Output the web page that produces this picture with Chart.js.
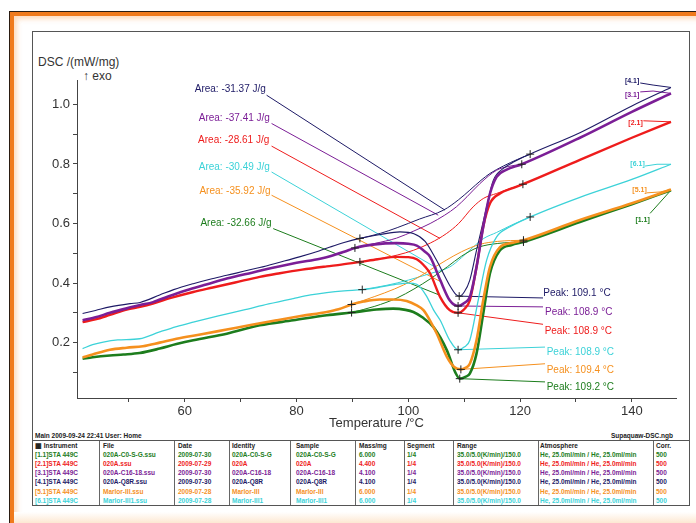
<!DOCTYPE html>
<html>
<head>
<meta charset="utf-8">
<script src="https://cdn.jsdelivr.net/npm/chart.js@4.4.0/dist/chart.umd.min.js"></script>
<style>
  html, body { margin: 0; padding: 0; background: #fff; }
  body { width: 696px; height: 523px; position: relative; overflow: hidden; font-family: "Liberation Sans", Arial, sans-serif; }
  #edge { position: absolute; left: 9px; top: 11px; width: 740px; height: 560px; border-left: 1px solid #2a1c12; border-top: 1px solid #2a1c12; }
  #edge .band { position: absolute; left: 0; top: 0; right: 0; bottom: 0; border-left: 4px solid #f07a1c; border-top: 4px solid #f07a1c; box-shadow: inset 3px 3px 5px rgba(250, 175, 110, 0.45); }
  #foot { position: absolute; left: 14px; top: 512px; width: 700px; height: 11px; background: linear-gradient(#fff, #fde8d2); }
  #frame { position: absolute; left: 32px; top: 31px; width: 656px; height: 473px; border: 1px solid #555; }
  #chart { position: absolute; left: 0; top: 0; }
  .ax { position: absolute; font-size: 12px; color: #333; white-space: nowrap; line-height: 14px; }
  .cell { position: absolute; font-size: 6.5px; font-weight: bold; white-space: nowrap; line-height: 9px; }
  .hline { position: absolute; left: 32px; width: 657px; height: 1px; background: #555; }
  .vline { position: absolute; width: 1px; background: #666; top: 441px; height: 64px; }
</style>
</head>
<body>
<div id="edge"><div class="band"></div></div>
<div id="foot"></div>
<div id="frame"></div>
<div class="ax" style="left:38px; top:55px;">DSC /(mW/mg)</div>
<div class="ax" style="left:83px; top:69px;">↑ exo</div>
<div id="table"></div>
<canvas id="chart" width="696" height="523"></canvas>
<script>
const family = '"Liberation Sans", Arial, sans-serif';

// axis ticks: temperature (°C) and DSC signal (mW/mg)
const tempTicks = [50, 60, 70, 80, 90, 100, 110, 120, 130, 140];
const dscTicks = [0.1, 0.2, 0.3, 0.4, 0.5, 0.6, 0.7, 0.8, 0.9, 1.0];

// runs in table order
const runIds = ['[1.1]', '[2.1]', '[3.1]', '[4.1]', '[5.1]', '[6.1]'];
const runColors = ['#1d7d1d', '#ee1c1c', '#7b1e96', '#1e1a66', '#f5901e', '#3cd2d8'];
const runWidths = [2.6, 2.4, 2.6, 1.1, 2.6, 1.3];

// DSC curves, [T °C, mW/mg]
const curve11 = [[41.7,0.146],[43.5,0.151],[46.6,0.157],[49,0.160],[51.9,0.165],[55.5,0.180],[58.5,0.195],[61.5,0.208],[67.5,0.230],[73.4,0.258],[79.4,0.275],[85.4,0.292],[89.84,0.301],[94.3,0.311],[97.3,0.314],[99.5,0.310],[100.9,0.303],[102.5,0.285],[104.5,0.252],[106.9,0.174],[108.4,0.100],[109.2,0.079],[110.2,0.085],[111,0.096],[112.2,0.163],[113.4,0.297],[114.6,0.432],[116.4,0.510],[118.5,0.528],[120.6,0.538],[130.7,0.605],[140,0.665],[147,0.712]];
const curve21 = [[41.7,0.269],[44,0.278],[46.6,0.293],[49.6,0.311],[52,0.320],[54.3,0.331],[57.5,0.350],[61.5,0.370],[65,0.385],[69,0.402],[73.4,0.421],[77,0.433],[81,0.445],[85.4,0.456],[88,0.462],[91.33,0.471],[94.5,0.480],[97.9,0.488],[100,0.487],[101.5,0.480],[103,0.455],[103.9,0.432],[105.7,0.353],[107.4,0.309],[108.9,0.300],[110,0.312],[111,0.342],[112.2,0.454],[113.4,0.589],[114.6,0.667],[116.4,0.701],[118.5,0.718],[120.5,0.732],[130.7,0.814],[140,0.888],[147,0.9415]];
const curve31 = [[41.7,0.275],[44,0.285],[46.6,0.300],[49.6,0.315],[52,0.326],[54.3,0.336],[57,0.355],[60.3,0.376],[64,0.396],[67.5,0.415],[72,0.435],[76.4,0.454],[80,0.468],[84.2,0.482],[86,0.490],[88.5,0.505],[90.44,0.518],[94,0.530],[97.9,0.534],[100,0.532],[101.5,0.526],[103,0.505],[103.9,0.488],[105.7,0.410],[107.4,0.342],[108.9,0.323],[110,0.333],[111,0.353],[112.2,0.454],[113.4,0.589],[114.6,0.700],[115.8,0.757],[117.5,0.780],[120.3,0.799],[130.7,0.888],[140,0.975],[147,1.037]];
const curve41 = [[41.7,0.298],[44,0.308],[46.6,0.320],[50.2,0.331],[52,0.335],[55.5,0.360],[58,0.378],[61.5,0.398],[64.5,0.413],[67.5,0.426],[73.4,0.452],[77,0.470],[80.5,0.488],[84,0.508],[86,0.521],[88.5,0.536],[91.33,0.550],[95,0.563],[98.5,0.572],[101,0.566],[103,0.540],[105,0.478],[107.4,0.392],[108.5,0.362],[109.1,0.356],[110,0.370],[111,0.410],[112.2,0.510],[114,0.655],[115.2,0.745],[117,0.785],[119,0.808],[121.8,0.833],[130.7,0.905],[140,0.995],[147,1.057]];
const curve51 = [[41.7,0.150],[43.5,0.160],[46.6,0.176],[49.6,0.183],[52.5,0.188],[55.5,0.200],[58.5,0.213],[63,0.228],[67.5,0.244],[72,0.260],[76.4,0.275],[81,0.290],[85.4,0.303],[87.5,0.312],[89.84,0.328],[92,0.338],[94.9,0.345],[97.3,0.345],[99.7,0.340],[101.5,0.325],[102.7,0.309],[104,0.270],[105.1,0.230],[106.9,0.152],[108.2,0.118],[109.4,0.110],[110.2,0.115],[111,0.129],[112.2,0.208],[113.4,0.342],[114.6,0.454],[116.4,0.521],[118.5,0.535],[120.6,0.544],[130.7,0.612],[140,0.668],[147,0.714]];
const curve61 = [[41.7,0.180],[43.5,0.193],[45.4,0.202],[48,0.209],[51.9,0.213],[55.5,0.236],[58.5,0.254],[61.5,0.269],[66,0.290],[70.4,0.309],[75,0.330],[79.4,0.348],[82.5,0.360],[85.4,0.368],[88.5,0.374],[91.75,0.378],[94.5,0.385],[97.5,0.395],[100,0.400],[101.5,0.396],[103.2,0.358],[104.5,0.310],[105.7,0.275],[107.4,0.208],[108.9,0.176],[110,0.185],[111,0.208],[112.5,0.342],[114,0.476],[115.8,0.555],[118.2,0.589],[121.8,0.622],[130.7,0.688],[140,0.748],[147,0.799]];

// sigmoidal baselines under each melting peak
const base11 = [[89.84,0.301],[94,0.322],[98,0.350],[101,0.380],[104,0.415],[107,0.455],[109.5,0.490],[112.5,0.520],[116,0.533],[120.6,0.538]];
const base21 = [[91.33,0.471],[95,0.482],[98,0.494],[100.9,0.510],[104,0.535],[106.8,0.566],[109,0.600],[111.6,0.656],[113.5,0.685],[115.8,0.701],[118,0.716],[120.5,0.732]];
const base31 = [[90.44,0.518],[94,0.533],[97.9,0.551],[101,0.575],[103.9,0.600],[106.5,0.628],[108.6,0.656],[110.5,0.690],[112.8,0.734],[115.8,0.779],[118,0.792],[120.3,0.799]];
const base41 = [[91.33,0.550],[95,0.567],[98,0.586],[102,0.615],[106.3,0.645],[109,0.680],[111,0.712],[113,0.745],[114.6,0.768],[117,0.793],[119.5,0.815],[121.8,0.833]];
const base51 = [[89.84,0.328],[94,0.355],[97.5,0.380],[100.9,0.410],[104,0.445],[106.8,0.477],[109.5,0.505],[112.8,0.530],[116,0.540],[120.6,0.544]];
const base61 = [[91.75,0.378],[96,0.392],[100,0.410],[103.9,0.432],[107.4,0.454],[109.5,0.485],[111.6,0.521],[113.5,0.550],[115.8,0.570],[118.5,0.595],[121.8,0.622]];

// integration limits and peak results
const limitsLeft = [[89.84,0.301],[91.33,0.471],[90.44,0.518],[91.33,0.550],[89.84,0.328],[91.75,0.378]];
const limitsRight = [[120.6,0.538],[120.5,0.732],[120.3,0.799],[121.8,0.833],[120.6,0.544],[121.8,0.622]];
const peakTemps = [109.2, 108.9, 108.9, 109.1, 109.4, 108.9];
const peakValues = [0.079, 0.300, 0.323, 0.356, 0.110, 0.176];
const areaValues = ['-32.66', '-28.61', '-37.41', '-31.37', '-35.92', '-30.49'];

// annotation anchors, [T, mW/mg]
const areaLeaders = [[[75.81,0.583],[105.66,0.359]],[[75.52,0.860],[105.66,0.550]],[[75.52,0.936],[105.35,0.628]],[[74.63,1.031],[106.55,0.645]],[[75.52,0.695],[105.66,0.406]],[[75.52,0.773],[105.12,0.450]]];
const areaLabelAt = [[75.52,0.600],[75.1,0.880],[75.22,0.953],[74.5,1.050],[75.34,0.710],[75.22,0.788]];
const peakLeaderEnds = [[124.46,0.068],[124.1,0.2615],[124.1,0.320],[124.1,0.350],[124.46,0.129],[124.46,0.185]];
const peakLabelAt = [[124.76,0.049],[124.39,0.238],[124.46,0.301],[124.15,0.367],[124.76,0.107],[124.76,0.168]];
const endLeaders = [[[143.26,0.634],[147,0.712]],[[142.06,0.945],[147,0.9415]],[[141.5,1.042],[143.8,1.045],[147,1.037]],[[141.5,1.072],[143.8,1.065],[147,1.057]],[[142.67,0.703],[145.05,0.706],[147,0.714]],[[142.36,0.793],[144.5,0.799],[147,0.799]]];
const endLabelAt = [[141.92,0.611],[140.66,0.936],[140.04,1.031],[140.04,1.079],[141.38,0.714],[141.02,0.799]];

// measurement table
const tableHead = ['\u25A6 Instrument', 'File', 'Date', 'Identity', 'Sample', 'Mass/mg', 'Segment', 'Range', 'Atmosphere', 'Corr.'];
const instruments = ['[1.1]STA 449C', '[2.1]STA 449C', '[3.1]STA 449C', '[4.1]STA 449C', '[5.1]STA 449C', '[6.1]STA 449C'];
const files = ['020A-C0-S-G.ssu', '020A.ssu', '020A-C16-18.ssu', '020A-Q8R.ssu', 'Marlor-III.ssu', 'Marlor-III1.ssu'];
const dates = ['2009-07-30', '2009-07-29', '2009-07-30', '2009-07-30', '2009-07-28', '2009-07-28'];
const identities = ['020A-C0-S-G', '020A', '020A-C16-18', '020A-Q8R', 'Marlor-III', 'Marlor-III1'];
const samples = ['020A-C0-S-G', '020A', '020A-C16-18', '020A-Q8R', 'Marlor-III', 'Marlor-III1'];
const masses = ['6.000', '4.400', '4.100', '4.100', '6.000', '6.000'];
const segments = ['1/4', '1/4', '1/4', '1/4', '1/4', '1/4'];
const ranges = ['35.0/5.0(K/min)/150.0', '35.0/5.0(K/min)/150.0', '35.0/5.0(K/min)/150.0', '35.0/5.0(K/min)/150.0', '35.0/5.0(K/min)/150.0', '35.0/5.0(K/min)/150.0'];
const atmospheres = ['He, 25.0ml/min / He, 25.0ml/min', 'He, 25.0ml/min / He, 25.0ml/min', 'He, 25.0ml/min / He, 25.0ml/min', 'He, 25.0ml/min / He, 25.0ml/min', 'He, 25.0ml/min / He, 25.0ml/min', 'He, 25.0ml/min / He, 25.0ml/min'];
const corrs = ['500', '500', '500', '500', '500', '500'];

// ── table ──
(function buildTable() {
  const box = document.getElementById('table');
  const colLeft = [35, 103, 178, 232, 296, 359, 407, 457, 540, 656];
  const colLines = [99, 174, 229, 290, 355, 404, 453, 538, 653];
  const rowMid = [454.3, 463.3, 472.3, 481.7, 491, 500.7];
  const cols = [instruments, files, dates, identities, samples, masses, segments, ranges, atmospheres, corrs];
  const put = (text, left, mid, color, extra) => {
    const d = document.createElement('div');
    d.className = 'cell';
    d.textContent = text;
    d.style.left = left + 'px';
    d.style.top = (mid - 4.5) + 'px';
    d.style.color = color;
    if (extra) Object.assign(d.style, extra);
    box.appendChild(d);
  };
  put('Main   2009-09-24 22:41   User: Home', 35, 435.7, '#222');
  put('Supaquaw-DSC.ngb', 0, 435.7, '#222', { left: 'auto', right: '23px' });
  const top = document.createElement('div');
  top.className = 'hline';
  top.style.top = '440px';
  box.appendChild(top);
  colLines.forEach(x => {
    const v = document.createElement('div');
    v.className = 'vline';
    v.style.left = x + 'px';
    box.appendChild(v);
  });
  tableHead.forEach((h, c) => put(h, colLeft[c] + (c === 0 ? 0 : 0), 445.5, '#222'));
  cols.forEach((col, c) => {
    col.forEach((txt, r) => put(txt, colLeft[c], rowMid[r], runColors[r]));
  });
})();

// ── chart ──
const pts = arr => arr.map(([x, y]) => ({ x, y }));

const crossPoints = pts(limitsLeft).concat(pts(limitsRight),
  peakTemps.map((t, i) => ({ x: t, y: peakValues[i] })));

const curves = [curve11, curve21, curve31, curve41, curve51, curve61];
const baselines = [base11, base21, base31, base41, base51, base61];
const zOrder = [4, 0, 2, 1, 5, 3]; // drawn top first

const datasets = [];
datasets.push({
  data: crossPoints,
  showLine: false,
  pointStyle: 'cross',
  pointRadius: 4,
  borderColor: '#222',
  borderWidth: 1
});
zOrder.forEach(i => {
  datasets.push({
    data: pts(curves[i]),
    showLine: true,
    borderColor: runColors[i],
    borderWidth: runWidths[i],
    pointRadius: 0,
    cubicInterpolationMode: 'monotone'
  });
});
zOrder.forEach(i => {
  datasets.push({
    data: pts(baselines[i]),
    showLine: true,
    borderColor: runColors[i],
    borderWidth: 1,
    pointRadius: 0,
    cubicInterpolationMode: 'monotone'
  });
});
runIds.forEach((id, i) => {
  const thin = { showLine: true, borderColor: runColors[i], borderWidth: 1, pointRadius: 0, tension: 0 };
  datasets.push(Object.assign({ data: pts(areaLeaders[i]) }, thin));
  datasets.push(Object.assign({ data: [{ x: peakTemps[i], y: peakValues[i] }].concat(pts([peakLeaderEnds[i]])) }, thin));
  datasets.push(Object.assign({ data: pts(endLeaders[i]) }, thin));
});

// result texts next to the leader lines
const resultLabels = {
  id: 'resultLabels',
  afterDatasetsDraw(chart) {
    const { ctx, scales: { x, y } } = chart;
    ctx.save();
    ctx.textBaseline = 'middle';
    ctx.font = '10px ' + family;
    ctx.textAlign = 'right';
    areaValues.forEach((a, i) => {
      ctx.fillStyle = runColors[i];
      ctx.fillText(`Area: ${a} J/g`, x.getPixelForValue(areaLabelAt[i][0]), y.getPixelForValue(areaLabelAt[i][1]));
    });
    ctx.textAlign = 'left';
    peakTemps.forEach((t, i) => {
      ctx.fillStyle = runColors[i];
      ctx.fillText(`Peak: ${t.toFixed(1)} °C`, x.getPixelForValue(peakLabelAt[i][0]), y.getPixelForValue(peakLabelAt[i][1]));
    });
    ctx.font = 'bold 7px ' + family;
    ctx.textAlign = 'center';
    runIds.forEach((id, i) => {
      ctx.fillStyle = runColors[i];
      ctx.fillText(id, x.getPixelForValue(endLabelAt[i][0]), y.getPixelForValue(endLabelAt[i][1]));
    });
    ctx.restore();
  }
};

new Chart(document.getElementById('chart'), {
  type: 'scatter',
  data: { datasets },
  options: {
    responsive: false,
    animation: false,
    layout: { padding: { left: 0, top: 80, right: 20, bottom: 80 } },
    plugins: { legend: { display: false }, tooltip: { enabled: false } },
    scales: {
      x: {
        type: 'linear',
        min: 40.7,
        max: 147.9,
        afterBuildTicks: s => { s.ticks = tempTicks.map(v => ({ value: v })); },
        afterFit: s => { s.height = 45; },
        ticks: {
          callback: v => (v % 20 === 0 ? String(v) : ''),
          font: { size: 13, family },
          color: '#333',
          padding: 2,
          autoSkip: false,
          maxRotation: 0
        },
        grid: { drawOnChartArea: false, drawTicks: true, tickLength: 4, color: '#444' },
        border: { display: true, color: '#444', width: 1 },
        title: { display: true, text: 'Temperature /°C', font: { size: 13, family }, color: '#333', padding: { top: 0, bottom: 12 } }
      },
      y: {
        type: 'linear',
        min: 0.014,
        max: 1.082,
        afterBuildTicks: s => { s.ticks = dscTicks.map(v => ({ value: v })); },
        afterFit: s => { s.width = 77; },
        ticks: {
          callback: v => (Math.round(v * 10) % 2 === 0 ? v.toFixed(1) : ''),
          font: { size: 13, family },
          color: '#333',
          padding: 3,
          autoSkip: false
        },
        grid: { drawOnChartArea: false, drawTicks: true, tickLength: 4, color: '#444' },
        border: { display: true, color: '#444', width: 1 }
      }
    }
  },
  plugins: [resultLabels]
});
</script>
</body>
</html>
